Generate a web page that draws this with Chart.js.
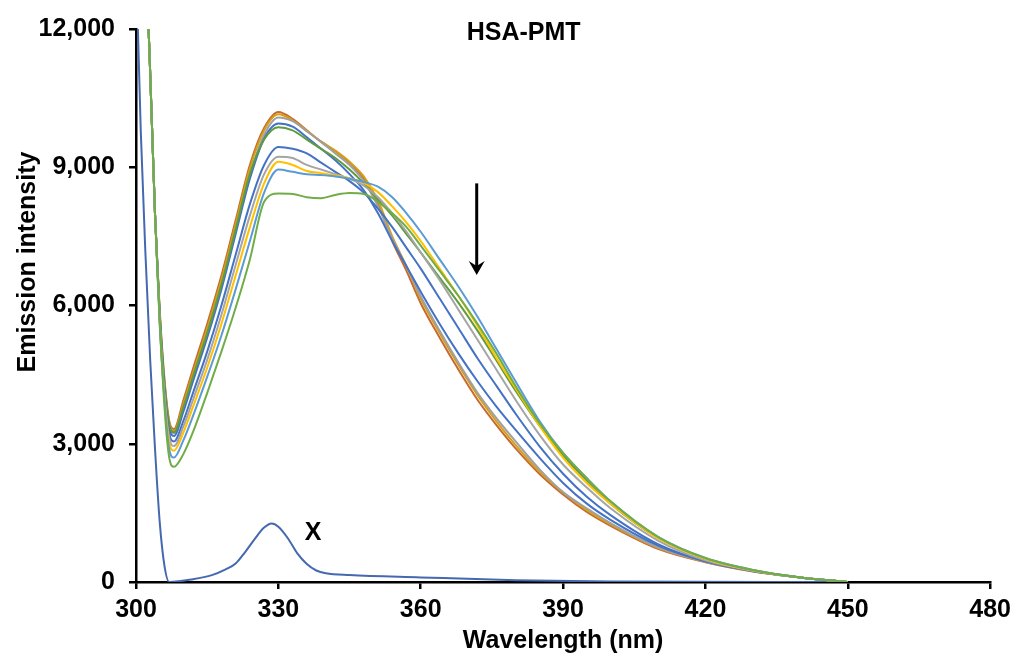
<!DOCTYPE html>
<html>
<head>
<meta charset="utf-8">
<script src="https://cdn.jsdelivr.net/npm/chart.js@4/dist/chart.umd.min.js"></script>
<style>
  html, body { margin: 0; padding: 0; background: #fff; }
</style>
</head>
<body>
<canvas id="emission" width="1017" height="661"></canvas>
<script>
// wavelength grid (nm) for the titration spectra
const wavelengths = [300, 302, 303, 304, 305, 306, 307, 308, 310, 312, 315, 318, 321, 324, 327, 330,
  333, 336, 339, 342, 345, 348, 351, 354, 357, 360, 364, 368, 372, 376, 380, 385,
  390, 395, 400, 410, 420, 430, 440, 450];

// upper group of spectra
const orangeSeries = [40000, 15000, 11000, 8000, 5900, 4400, 3500, 3320, 3950, 4620, 5600, 6650, 7850, 9050, 9850, 10200,
  10050, 9800, 9550, 9350, 9100, 8750, 8200, 7400, 6750, 6050, 5300, 4600, 3950, 3400, 2900, 2350,
  1900, 1520, 1220, 720, 430, 230, 100, 0];
const goldSeries = [40000, 15000, 11000, 8000, 5850, 4350, 3450, 3280, 3870, 4530, 5500, 6560, 7760, 8970, 9800, 10150,
  10020, 9790, 9560, 9360, 9120, 8800, 8280, 7500, 6850, 6150, 5400, 4700, 4050, 3480, 2970, 2400,
  1940, 1560, 1250, 740, 440, 235, 100, 0];
const grayUpperSeries = [40000, 15000, 11000, 8000, 5800, 4300, 3400, 3230, 3780, 4420, 5370, 6420, 7620, 8820, 9700, 10080,
  10000, 9780, 9550, 9300, 9050, 8700, 8150, 7450, 6850, 6200, 5450, 4750, 4100, 3550, 3050, 2450,
  1950, 1600, 1280, 750, 440, 235, 100, 0];
const blueUpperSeries = [40000, 15000, 11000, 8000, 5780, 4250, 3350, 3170, 3700, 4350, 5300, 6350, 7550, 8750, 9620, 9950,
  9880, 9650, 9400, 9150, 8850, 8500, 8000, 7400, 6850, 6300, 5600, 4950, 4350, 3800, 3300, 2700,
  2150, 1700, 1350, 790, 450, 240, 100, 0];
const greenUpperSeries = [40000, 15000, 11000, 8000, 5800, 4300, 3420, 3250, 3800, 4450, 5400, 6450, 7650, 8850, 9600, 9870,
  9800, 9600, 9400, 9200, 8950, 8650, 8300, 7950, 7550, 7150, 6600, 6050, 5450, 4800, 4150, 3400,
  2750, 2200, 1700, 960, 510, 250, 100, 0];

// lower group of spectra
const blueLowerSeries = [40000, 15000, 11000, 8000, 5700, 4150, 3230, 3050, 3500, 4100, 5000, 6000, 7100, 8200, 9050, 9440,
  9400, 9300, 9100, 8900, 8700, 8450, 8100, 7700, 7250, 6800, 6150, 5500, 4850, 4250, 3650, 2950,
  2350, 1850, 1450, 820, 450, 240, 100, 0];
const grayLowerSeries = [40000, 15000, 11000, 8000, 5650, 4050, 3130, 2950, 3380, 3950, 4820, 5800, 6880, 7950, 8850, 9230,
  9200, 9050, 8950, 8850, 8750, 8600, 8350, 8000, 7600, 7150, 6550, 5900, 5250, 4600, 3950, 3200,
  2550, 2050, 1600, 900, 470, 245, 100, 0];
const yellowSeries = [40000, 15000, 11000, 8000, 5600, 4000, 3030, 2850, 3250, 3800, 4650, 5600, 6650, 7700, 8650, 9120,
  9050, 8920, 8870, 8820, 8760, 8660, 8460, 8150, 7800, 7400, 6800, 6200, 5550, 4850, 4200, 3400,
  2700, 2150, 1700, 950, 500, 250, 100, 0];
const lightBlueSeries = [40000, 15000, 11000, 8000, 5600, 3950, 2880, 2700, 3080, 3600, 4450, 5350, 6350, 7400, 8450, 8950,
  8900, 8850, 8830, 8800, 8750, 8680, 8580, 8350, 8000, 7600, 7000, 6400, 5750, 5050, 4350, 3500,
  2800, 2250, 1750, 980, 520, 260, 100, 0];
const greenLowerSeries = [40000, 15000, 11000, 8000, 5700, 3800, 2700, 2500, 2780, 3250, 4100, 5000, 5950, 7000, 8250, 8430,
  8420, 8350, 8330, 8400, 8440, 8420, 8250, 8000, 7700, 7300, 6750, 6200, 5600, 4950, 4250, 3450,
  2800, 2250, 1750, 980, 520, 260, 100, 0];

// compound X alone
const wavelengthsX = [300, 301, 302, 303, 304, 305, 306, 307, 312, 316, 319, 321, 323, 325, 327, 328.6,
  330, 332, 334, 336, 338, 340, 345, 360, 380, 400, 450];
const seriesX = [13500, 9800, 7100, 4800, 2900, 1300, 350, 0, 60, 150, 280, 400, 650, 930, 1180, 1270,
  1200, 950, 620, 390, 250, 190, 150, 100, 40, 10, 0];

const xTicks = { min: 300, max: 480, step: 30 };
const yTicks = { min: 0, max: 12000, step: 3000 };

const FONT = '"Liberation Sans", Arial, sans-serif';

function toPoints(xs, ys) {
    return xs.map((w, i) => ({ x: w, y: ys[i] }));
}

function spectrum(values, color) {
    return {
        data: toPoints(wavelengths, values),
        borderColor: color,
        borderWidth: 2,
        pointRadius: 0,
        fill: false,
        cubicInterpolationMode: 'monotone'
    };
}

// labels and the arrow drawn on top of the plot
const annotations = {
    id: 'annotations',
    afterDatasetsDraw(chart) {
        const { ctx, scales: { x, y } } = chart;
        ctx.save();
        ctx.fillStyle = '#000';
        ctx.strokeStyle = '#000';
        ctx.font = 'bold 25px ' + FONT;
        ctx.textAlign = 'center';
        ctx.textBaseline = 'middle';
        ctx.fillText('HSA-PMT', x.getPixelForValue(381.7), y.getPixelForValue(11900));
        ctx.fillText('X', x.getPixelForValue(337.3), y.getPixelForValue(1060));

        // arrow
        const ax = x.getPixelForValue(371.8);
        const top = y.getPixelForValue(8650);
        const tip = y.getPixelForValue(6660);
        ctx.lineWidth = 3;
        ctx.beginPath();
        ctx.moveTo(ax, top);
        ctx.lineTo(ax, tip - 8);
        ctx.stroke();
        ctx.beginPath();
        ctx.moveTo(ax, tip);
        ctx.lineTo(ax - 8, tip - 14);
        ctx.lineTo(ax, tip - 9);
        ctx.lineTo(ax + 8, tip - 14);
        ctx.closePath();
        ctx.fill();

        // y axis title
        ctx.translate(28, 262);
        ctx.rotate(-Math.PI / 2);
        ctx.fillText('Emission intensity', 0, 0);
        ctx.restore();
    }
};

const ctx = document.getElementById('emission').getContext('2d');

const emissionChart = new Chart(ctx, {
    type: 'line',
    data: {
        datasets: [
            spectrum(greenLowerSeries, '#70AD47'),
            spectrum(lightBlueSeries, '#5B9BD5'),
            spectrum(yellowSeries, '#FFC000'),
            spectrum(grayLowerSeries, '#A5A5A5'),
            spectrum(blueLowerSeries, '#4472C4'),
            spectrum(greenUpperSeries, '#5E9C3E'),
            spectrum(blueUpperSeries, '#4472C4'),
            spectrum(grayUpperSeries, '#A0A0A0'),
            spectrum(goldSeries, '#D4A017'),
            spectrum(orangeSeries, '#C86A30'),
            {
                data: toPoints(wavelengthsX, seriesX),
                borderColor: '#4568B0',
                borderWidth: 2,
                pointRadius: 0,
                fill: false,
                cubicInterpolationMode: 'monotone'
            }
        ]
    },
    options: {
        responsive: false,
        animation: false,
        layout: { padding: { top: 24, right: 26, left: 0, bottom: 0 } },
        plugins: {
            legend: { display: false },
            tooltip: { enabled: false }
        },
        scales: {
            x: {
                type: 'linear',
                min: xTicks.min,
                max: xTicks.max,
                ticks: {
                    stepSize: xTicks.step,
                    color: '#000',
                    padding: 6,
                    maxRotation: 0,
                    font: { family: FONT, size: 25, weight: 'bold' }
                },
                grid: { drawOnChartArea: false, drawTicks: true, tickLength: 7, color: '#000', lineWidth: 2.5 },
                border: { display: true, color: '#000', width: 2.5 },
                title: {
                    display: true,
                    text: 'Wavelength (nm)',
                    color: '#000',
                    padding: { top: 0, bottom: 5 },
                    font: { family: FONT, size: 25, weight: 'bold' }
                },
                afterFit(scale) { scale.height = 79; }
            },
            y: {
                min: yTicks.min,
                max: yTicks.max,
                ticks: {
                    stepSize: yTicks.step,
                    color: '#000',
                    padding: 14,
                    font: { family: FONT, size: 25, weight: 'bold' },
                    callback: v => v.toLocaleString('en-US')
                },
                grid: { drawOnChartArea: false, drawTicks: true, tickLength: 7, color: '#000', lineWidth: 2.5 },
                border: { display: true, color: '#000', width: 2.5 },
                afterFit(scale) { scale.width = 136; }
            }
        }
    },
    plugins: [annotations]
});
</script>
</body>
</html>
